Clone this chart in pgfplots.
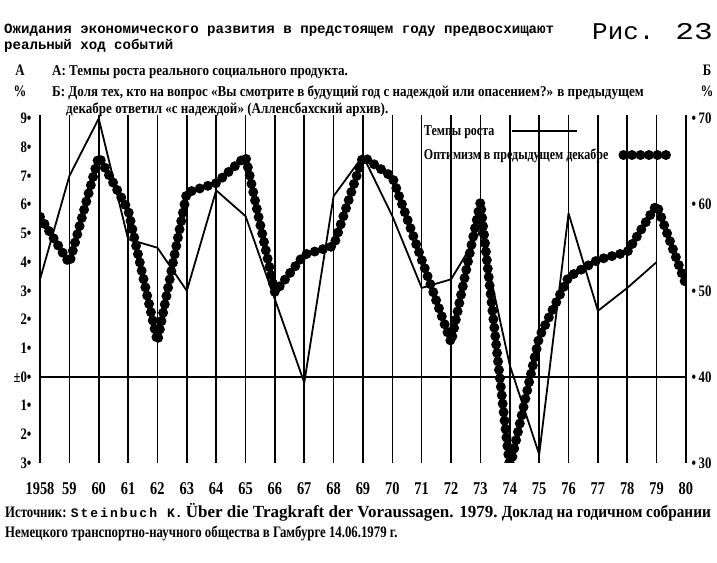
\documentclass[border=0pt]{standalone}
\usepackage{fontspec}
\setmainfont{Liberation Serif}
\newfontfamily\cond{Liberation Serif}[FakeStretch=0.8]
\newfontfamily\condb{Liberation Serif}[FakeStretch=0.87]
\newfontfamily\condc{Liberation Serif}[FakeStretch=0.9]
\newfontfamily\mono{Liberation Mono}
\usepackage{pgfplots}
\pgfplotsset{compat=1.18}

\pgfplotstableread{
year val
1958 3.4
1959 7.0
1960 9.0
1961 4.8
1962 4.5
1963 3.0
1964 6.5
1965 5.6
1966 2.7
1967 -0.2
1968 6.3
1969 7.7
1970 5.6
1971 3.1
1972 3.4
1973 5.1
1974 0.4
1975 -2.7
1976 5.7
1977 2.3
1978 3.1
1979 4.0
}\growth

\pgfplotstableread{
year val
1958 58.6
1959 53.2
1960 65.6
1961 59.4
1962 44.1
1963 61.4
1964 62.5
1965 65.6
1966 49.8
1967 54.2
1968 55.2
1969 65.6
1970 63.2
1971 53.6
1972 44.0
1973 60.3
1974 29.4
1975 44.6
1976 51.6
1977 53.6
1978 54.5
1979 60.0
1980 50.7
}\optim

\begin{document}
\begin{tikzpicture}[x=1pt,y=1pt]
\useasboundingbox (0,0) rectangle (717,562);

\begin{axis}[
  at={(40pt,99pt)}, anchor=south west, scale only axis,
  width=646pt, height=348pt,
  xmin=1958, xmax=1980, ymin=-3, ymax=9.125,
  axis line style={draw=none},
  major tick length=0pt,
  xtick={1958,...,1980},
  xticklabels={1958,59,60,61,62,63,64,65,66,67,68,69,70,71,72,73,74,75,76,77,78,79,80},
  ytick={-3,-2,-1,0,1,2,3,4,5,6,7,8,9},
  yticklabels={3•,2•,1•,±0•,1•,2•,3•,4•,5•,6•,7•,8•,9•},
  xmajorgrids,
  grid style={black, line width=1.6pt},
  xticklabel style={font=\cond\bfseries\fontsize{18}{18}\selectfont, yshift=-16pt},
  yticklabel style={font=\cond\bfseries\fontsize{16}{16}\selectfont, xshift=-5pt},
  legend style={at={(0.591,0.954)}, anchor=west, draw=none, fill=none,
    inner sep=0pt, column sep=15pt,
    font=\cond\bfseries\fontsize{15}{15}\selectfont},
  legend plot pos=right,
  legend cell align=left,
  legend image code/.code={\draw[#1] (0pt,0pt) -- (65pt,0pt);},
]
\addplot[black, line width=1.6pt, forget plot] coordinates {(1958,0) (1980,0)};
\addplot[black, line width=1.8pt, line join=round]
  table[x=year, y=val] {\growth};
\addlegendentry{Темпы роста}
\end{axis}

\begin{axis}[
  at={(40pt,99pt)}, anchor=south west, scale only axis,
  width=646pt, height=348pt,
  xmin=1958, xmax=1980, ymin=30, ymax=70.417,
  axis line style={draw=none},
  major tick length=0pt,
  xtick=\empty,
  ytick={30,40,50,60,70},
  yticklabels={•\,30,•\,40,•\,50,•\,60,•\,70},
  yticklabel pos=right,
  yticklabel style={font=\cond\bfseries\fontsize{16}{16}\selectfont, xshift=2pt},
  legend style={at={(0.591,0.885)}, anchor=west, draw=none, fill=none,
    inner sep=0pt, column sep=8pt,
    font=\cond\bfseries\fontsize{15}{15}\selectfont},
  legend plot pos=right,
  legend cell align=left,
  legend image code/.code={\draw[#1] (0pt,0pt) -- (43pt,0pt);},
]
\addplot[black, line width=10pt, line cap=round, dash pattern=on 0pt off 8.5pt]
  table[x=year, y=val] {\optim};
\addlegendentry{Оптимизм в предыдущем декабре}
\end{axis}

% Title and texts
\node[anchor=base west, inner sep=0pt, font=\mono\bfseries\fontsize{14.1}{14}\selectfont]
  at (4,528) {Ожидания экономического развития в предстоящем году предвосхищают};
\node[anchor=base west, inner sep=0pt, font=\mono\bfseries\fontsize{14.1}{14}\selectfont]
  at (4,512) {реальный ход событий};
\node[anchor=base west, inner sep=0pt, font=\mono\fontsize{24}{24}\selectfont]
  at (592,522) {\scalebox{1.08}[1]{Рис.}};
\node[anchor=base east, inner sep=0pt, font=\mono\fontsize{24}{24}\selectfont]
  at (713,522) {\scalebox{1.3}[1]{23}};

\begin{scope}[every node/.style={inner sep=0pt, font=\cond\bfseries\fontsize{16}{16}\selectfont}]
\node[anchor=base] at (20,486.5) {А};
\node[anchor=base] at (20,465.5) {\%};
\node[anchor=base] at (707,486.5) {Б};
\node[anchor=base] at (707,465.5) {\%};
\end{scope}
\begin{scope}[every node/.style={inner sep=0pt, font=\condb\bfseries\fontsize{15}{15}\selectfont}]
\node[anchor=base west] at (52,486.5) {А: Темпы роста реального социального продукта.};
\node[anchor=base west] at (52,465.5) {Б: Доля тех, кто на вопрос «Вы смотрите в будущий год с надеждой или опасением?» в предыдущем};
\node[anchor=base west] at (66,448) {декабре ответил «с надеждой» (Алленсбахский архив).};
\end{scope}
\begin{scope}[every node/.style={inner sep=0pt, font=\cond\bfseries\fontsize{16}{16}\selectfont}]
\node[anchor=base west] at (5,45) {Источник: {\mono\bfseries\fontsize{13}{13}\selectfont S\kern2pt t\kern2pt e\kern2pt i\kern2pt n\kern2pt b\kern2pt u\kern2pt c\kern2pt h\ \,K.} {\rmfamily\bfseries\fontsize{17}{17}\selectfont Über die Tragkraft der Voraussagen. 1979.} {\condc\bfseries\fontsize{17}{17}\selectfont Доклад на годичном собрании}};
\node[anchor=base west] at (5,24) {Немецкого транспортно-научного общества в Гамбурге 14.06.1979 г.};
\end{scope}
\end{tikzpicture}
\end{document}
